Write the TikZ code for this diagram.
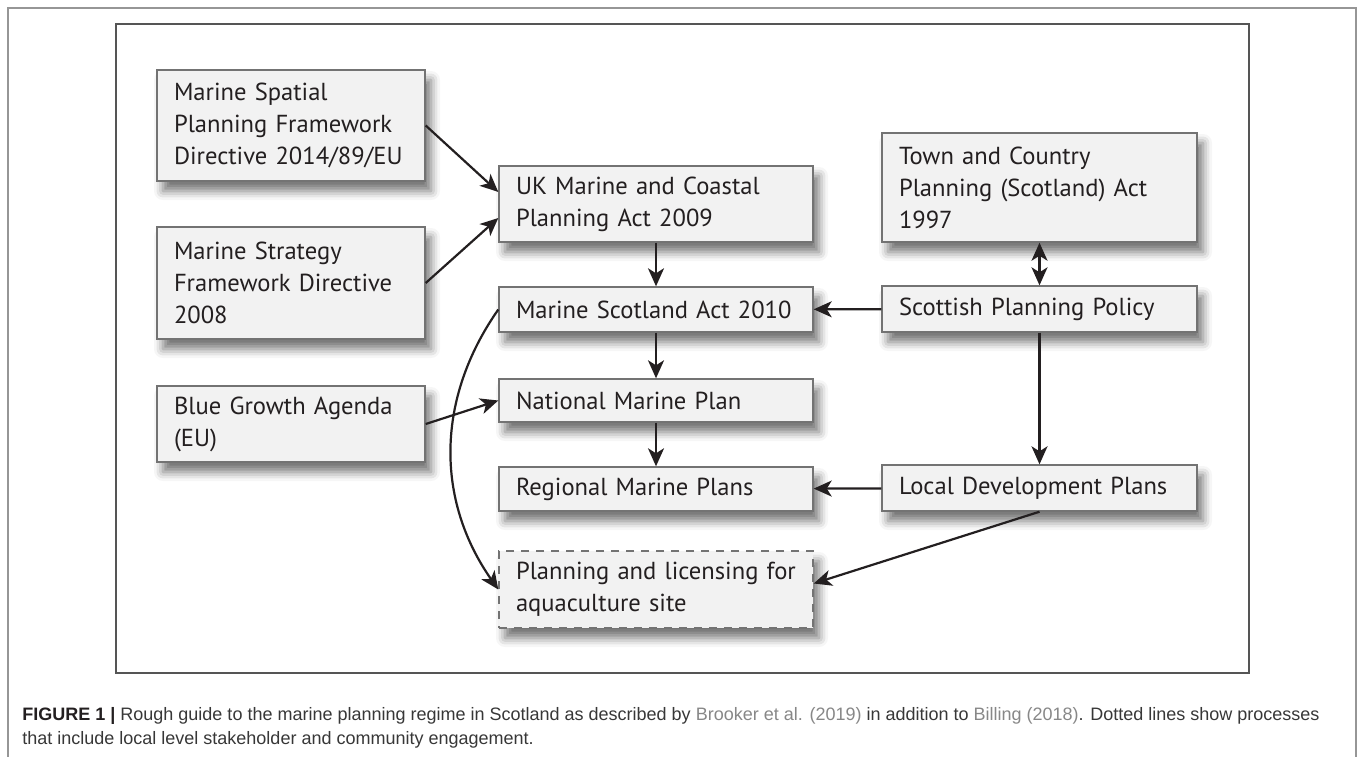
\documentclass[tikz,border=0pt]{standalone}
\usepackage{fontspec}
\setmainfont{PT Sans}
\newfontfamily\capfont{Liberation Sans}
\usetikzlibrary{arrows.meta, positioning, shadows.blur}
\definecolor{boxgray}{RGB}{115,115,115}
\definecolor{boxfill}{RGB}{242,242,242}
\definecolor{inkblack}{RGB}{35,31,32}
\definecolor{framegray}{RGB}{85,85,85}
\definecolor{edgegray}{RGB}{150,150,150}
\definecolor{capgray}{RGB}{55,55,55}
\definecolor{linkgray}{RGB}{135,135,135}

\begin{document}
\begin{tikzpicture}[
  x=0.5pt, y=-0.5pt,
  act/.style={draw=boxgray, line width=0.7pt, fill=boxfill, text=inkblack, text width=#1, align=left,
    inner xsep=8.5pt, inner ysep=4pt, font=\fontsize{12.3}{16}\selectfont,
    blur shadow={shadow xshift=3pt, shadow yshift=-5pt, shadow blur radius=4.5pt, shadow opacity=55}},
  act/.default=140pt,
  arrow/.style={-{Stealth[length=9pt, width=8pt, inset=2.5pt]}, line width=1.1pt, inkblack},
  caption/.style={anchor=base west, inner sep=0pt, text=capgray, font=\capfont\fontsize{9}{10}\selectfont},
]
  \useasboundingbox (0,0) rectangle (1358,756);

  % Frames
  \draw[edgegray, line width=0.8pt] (8,760) -- (8,8) -- (1356,8) -- (1356,760);
  \draw[framegray, line width=0.8pt] (116,24) rectangle (1249,673);

  % EU and UK sources
  \node[act=117pt, minimum height=55.5pt] (msp)  at (291,125.5) {Marine Spatial\\Planning Framework\\Directive 2014/89/EU};
  \node[act=117pt, minimum height=56pt]   (msfd) at (291,283)   {Marine Strategy\\Framework Directive\\2008};
  \node[act=117pt, minimum height=38pt]   (bga)  at (291,424)   {Blue Growth Agenda\\(EU)};

  % Marine chain
  \node[act, minimum height=38pt]   (uk)  at (656,204)   {UK Marine and Coastal\\Planning Act 2009};
  \node[act, minimum height=22.5pt] (msa) at (656,309.5) {Marine Scotland Act 2010};
  \node[act, minimum height=21.5pt] (nmp) at (656,400.5) {National Marine Plan};
  \node[act, minimum height=22pt]   (rmp) at (656,489)   {Regional Marine Plans};
  \node[act, minimum height=38.5pt, dashed, dash pattern=on 4pt off 3.5pt] (pla) at (656,589.5) {Planning and licensing for\\aquaculture site};

  % Terrestrial chain
  \node[act=140.5pt, minimum height=54.5pt] (tcp) at (1039.5,187.5) {Town and Country\\Planning (Scotland) Act\\1997};
  \node[act=140.5pt, minimum height=23pt]   (spp) at (1039.5,309)   {Scottish Planning Policy};
  \node[act=140.5pt, minimum height=23pt]   (ldp) at (1039.5,488)   {Local Development Plans};

  % Arrows
  \draw[arrow] (msp.east) -- ([yshift=6pt]uk.west);
  \draw[arrow] (msfd.east) -- ([yshift=-7pt]uk.west);
  \draw[arrow] (bga.east) -- (nmp.west);
  \draw[arrow] (uk) -- (msa);
  \draw[arrow] (msa) -- (nmp);
  \draw[arrow] (nmp) -- (rmp);
  \draw[arrow] (spp) -- (msa);
  \draw[arrow, {Stealth[length=9pt, width=8pt, inset=2.5pt]}-{Stealth[length=9pt, width=8pt, inset=2.5pt]}] (spp) -- (tcp);
  \draw[arrow] (spp) -- (ldp);
  \draw[arrow] (ldp) -- (rmp);
  \draw[arrow] (ldp.south) -- ([yshift=3pt]pla.east);
  \draw[arrow] (msa.west) to[out=235, in=125] (pla.west);

  % Caption
  \node[caption] (cap1) at (22,720.5) {\textbf{\color{inkblack}FIGURE 1 |} Rough guide to the marine planning regime in Scotland as described by \textcolor{linkgray}{Brooker et al. (2019)} in addition to \textcolor{linkgray}{Billing (2018)}. Dotted lines show processes};
  \node[caption] (cap2) at (22,744) {that include local level stakeholder and community engagement.};
\end{tikzpicture}
\end{document}
